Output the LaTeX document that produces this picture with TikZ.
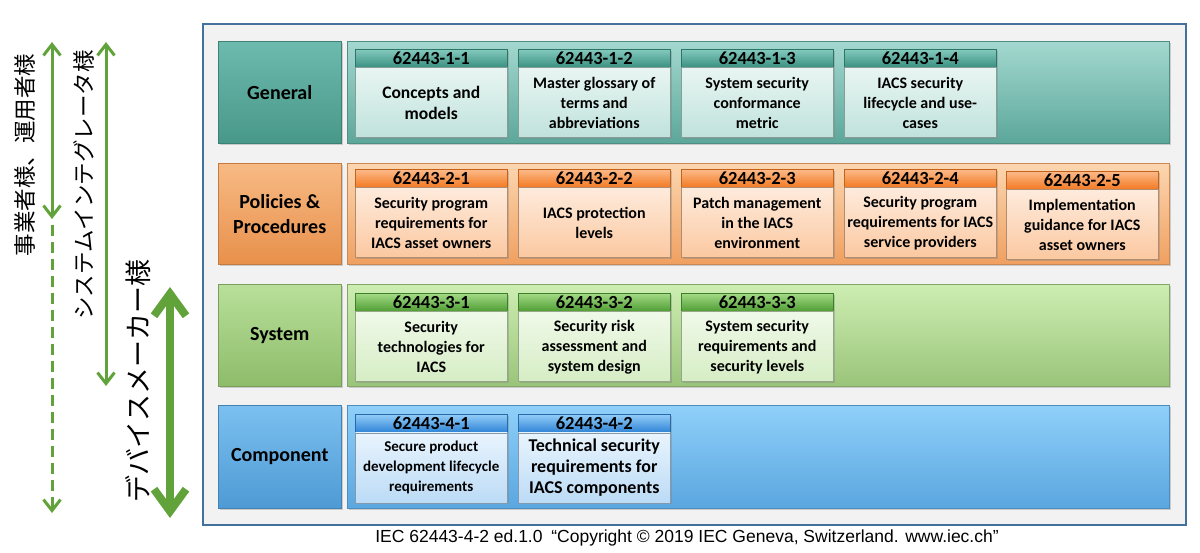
\documentclass[tikz,border=0pt]{standalone}
\usepackage{fontspec}
\setmainfont{Carlito}
\newfontfamily\jpfont{Noto Sans CJK JP}
\newfontfamily\arialfont{Liberation Sans}
\usetikzlibrary{arrows.meta,shadows}

% couleurs des quatre familles (g, p, s, c)
\definecolor{cadrebleu}{HTML}{41719C}
\definecolor{fond}{HTML}{F2F2F2}
\definecolor{vert}{HTML}{62A23A}
\definecolor{gbandeH}{HTML}{A3D8CF}\definecolor{gbandeB}{HTML}{5CA79A}
\definecolor{gtitreH}{HTML}{6DBAAE}\definecolor{gtitreB}{HTML}{489889}
\definecolor{genteteH}{HTML}{84CABE}\definecolor{genteteB}{HTML}{3A9182}
\definecolor{gcorpsH}{HTML}{E8F5F2}\definecolor{gcorpsB}{HTML}{C0E2DC}
\definecolor{pbandeH}{HTML}{FCD6B0}\definecolor{pbandeB}{HTML}{F0A060}
\definecolor{ptitreH}{HTML}{F7BA84}\definecolor{ptitreB}{HTML}{E8904B}
\definecolor{penteteH}{HTML}{FCBA8A}\definecolor{penteteB}{HTML}{F37A22}
\definecolor{pcorpsH}{HTML}{FEEBDC}\definecolor{pcorpsB}{HTML}{FBC8A0}
\definecolor{sbandeH}{HTML}{CDEEB2}\definecolor{sbandeB}{HTML}{9AC47A}
\definecolor{stitreH}{HTML}{B9E09A}\definecolor{stitreB}{HTML}{8DBC6A}
\definecolor{senteteH}{HTML}{A4DB86}\definecolor{senteteB}{HTML}{4F9D34}
\definecolor{scorpsH}{HTML}{F0F9E9}\definecolor{scorpsB}{HTML}{D5EDC4}
\definecolor{cbandeH}{HTML}{8FD0FA}\definecolor{cbandeB}{HTML}{5AA6DF}
\definecolor{ctitreH}{HTML}{7BC0F0}\definecolor{ctitreB}{HTML}{4E9AD4}
\definecolor{centeteH}{HTML}{93CDF8}\definecolor{centeteB}{HTML}{2F84D6}
\definecolor{ccorpsH}{HTML}{E8F4FD}\definecolor{ccorpsB}{HTML}{BCDBF6}

\begin{document}
\begin{tikzpicture}[x=1pt,y=-1pt]
\tikzset{
  ombre/.style={drop shadow={shadow xshift=1.5pt,shadow yshift=-1.5pt,opacity=.35}},
  bande/.style={anchor=north west, inner sep=0, minimum width=822pt,
    top color=#1bandeH, bottom color=#1bandeB, draw=#1bandeB!85!black, line width=.5pt, ombre},
  titre/.style={anchor=north west, inner sep=0, minimum width=123pt, align=center,
    top color=#1titreH, bottom color=#1titreB, draw=#1titreB!85!black, line width=.5pt, ombre,
    font=\fontsize{20}{25}\selectfont\bfseries},
  entete/.style={anchor=north west, inner sep=0, minimum width=152pt, minimum height=18pt,
    top color=#1enteteH, bottom color=#1enteteB, draw=#1enteteB!80!black, line width=.5pt, ombre,
    font=\fontsize{18.5}{18}\selectfont\bfseries},
  corps/.style={anchor=north, inner sep=0, minimum width=152pt, minimum height=70pt, align=center,
    top color=#1corpsH, bottom color=#1corpsB, draw=#1corpsB!70!black, line width=.5pt, ombre,
    font=\fontsize{16}{20}\selectfont\bfseries},
  fleche/.style={vert, line width=3pt},
  pointe/.tip={Straight Barb[length=11pt,width=17pt]},
  grossepointe/.tip={Straight Barb[length=22pt,width=32pt]},
  jp/.style={rotate=90, font=\jpfont\fontsize{22.5}{24}\selectfont}
}
\useasboundingbox (0,0) rectangle (1200,553);

% cadre
\draw[cadrebleu, line width=2pt, fill=fond] (203,24) rectangle (1186,525);

% General
\node[bande=g, minimum height=102pt] (bg) at (347,41) {};
\node[titre=g, minimum height=102pt] (tg) at (218,41) {General};
\node[entete=g] (e11) at (355,49) {62443-1-1};
\node[corps=g, font=\fontsize{17.5}{21}\selectfont\bfseries] (c11) at (e11.south) {Concepts and\\models};
\node[entete=g] (e12) at (518,49) {62443-1-2};
\node[corps=g] (c12) at (e12.south) {Master glossary of\\terms and\\abbreviations};
\node[entete=g] (e13) at (681,49) {62443-1-3};
\node[corps=g] (c13) at (e13.south) {System security\\conformance\\metric};
\node[entete=g] (e14) at (844,49) {62443-1-4};
\node[corps=g] (c14) at (e14.south) {IACS security\\lifecycle and use-\\cases};

% Policies & Procedures
\node[bande=p, minimum height=101pt] (bp) at (347,163) {};
\node[titre=p, minimum height=101pt] (tp) at (218,163) {Policies \&\\Procedures};
\node[entete=p] (e21) at (355,169) {62443-2-1};
\node[corps=p] (c21) at (e21.south) {Security program\\requirements for\\IACS asset owners};
\node[entete=p] (e22) at (518,169) {62443-2-2};
\node[corps=p] (c22) at (e22.south) {IACS protection\\levels};
\node[entete=p] (e23) at (681,169) {62443-2-3};
\node[corps=p] (c23) at (e23.south) {Patch management\\in the IACS\\environment};
\node[entete=p] (e24) at (844,169) {62443-2-4};
\node[corps=p] (c24) at (e24.south) {Security program\\requirements for IACS\\service providers};
\node[entete=p] (e25) at (1006,171) {62443-2-5};
\node[corps=p] (c25) at (e25.south) {Implementation\\guidance for IACS\\asset owners};

% System
\node[bande=s, minimum height=102pt] (bs) at (347,284) {};
\node[titre=s, minimum height=102pt] (ts) at (218,284) {System};
\node[entete=s] (e31) at (355,293) {62443-3-1};
\node[corps=s] (c31) at (e31.south) {Security\\technologies for\\IACS};
\node[entete=s] (e32) at (518,293) {62443-3-2};
\node[corps=s] (c32) at (e32.south) {Security risk\\assessment and\\system design};
\node[entete=s] (e33) at (681,293) {62443-3-3};
\node[corps=s] (c33) at (e33.south) {System security\\requirements and\\security levels};

% Component
\node[bande=c, minimum height=103pt] (bc) at (347,405) {};
\node[titre=c, minimum height=103pt] (tc) at (218,405) {Component};
\node[entete=c] (e41) at (355,414) {62443-4-1};
\node[corps=c, font=\fontsize{15}{20}\selectfont\bfseries] (c41) at (e41.south) {Secure product\\development lifecycle\\requirements};
\node[entete=c] (e42) at (518,414) {62443-4-2};
\node[corps=c, font=\fontsize{18}{21}\selectfont\bfseries] (c42) at (e42.south) {Technical security\\requirements for\\IACS components};

% les fleches a gauche
\coordinate (a1h) at (52,42);
\coordinate (a1m) at (52,219);
\coordinate (a1b) at (52,513);
\coordinate (a2h) at (106,42);
\coordinate (a2b) at (106,386);
\coordinate (a3h) at (170,287);
\coordinate (a3b) at (170,518);
\draw[fleche, {pointe}-{pointe}] (a1h) -- (a1m);
\draw[fleche, dash pattern=on 11pt off 6pt, -{pointe}] ([yshift=-6pt]a1m) -- (a1b);
\draw[fleche, {pointe}-{pointe}] (a2h) -- (a2b);
\draw[fleche, line width=8pt, {grossepointe}-{grossepointe}] (a3h) -- (a3b);

\node[jp] (j1) at (25,155) {事業者様、運用者様};
\node[jp] (j2) at (84,185) {システムインテグレータ様};
\node[jp, font=\jpfont\fontsize{27}{28}\selectfont] (j3) at (138,381) {デバイスメーカー様};

% du texte
\node[font=\arialfont\fontsize{17.5}{18}\selectfont] (src) at (687,538)
  {IEC 62443-4-2 ed.1.0\enspace“Copyright © 2019 IEC Geneva, Switzerland. www.iec.ch”};
\end{tikzpicture}
\end{document}
